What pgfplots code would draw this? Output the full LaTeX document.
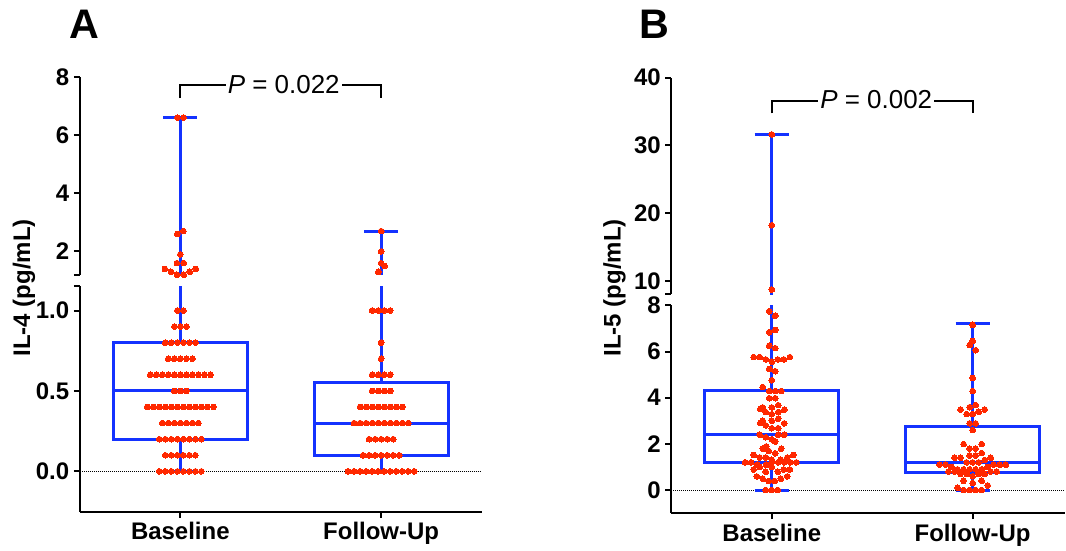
\documentclass[border=0pt]{standalone}
\usepackage{fontspec}
\setmainfont{Liberation Sans}
\usepackage{pgfplots}
\pgfplotsset{compat=1.18}
\usepgfplotslibrary{statistics}
\definecolor{boxblue}{RGB}{20,50,255}
\definecolor{dotred}{RGB}{255,40,0}
\pgfplotsset{
  brk/.style={
    scale only axis,
    clip=true,
    tick align=outside,
    major tick length=4.5pt,
    tick style={black, line width=1.5pt},
    axis line style={black, line width=1.5pt},
    ticklabel style={font=\fontsize{18}{20}\selectfont\bfseries, black},
    /pgf/number format/assume math mode=true,
    minor tick num=0,
    boxplot/draw direction=y,
  },
  upperpanel/.style={brk, axis x line=none, axis y line*=left, xtick=\empty},
  lowerpanel/.style={brk, axis x line*=bottom, axis y line*=left, xtick={1,2}, xticklabels={Baseline,Follow-Up}},
  bx/.style={draw=boxblue, line width=2.25pt, solid},
  dots/.style={only marks, mark=*, mark size=2.15pt, mark options={fill=dotred, draw=dotred, line width=0pt}},
}
\begin{document}
\begin{tikzpicture}
\begin{scope}[x=0.75pt, y=0.75pt]
\path[use as bounding box] (0,0) rectangle (1066,550);
\end{scope}

% ---------- Panel A, upper segment ----------
\begin{axis}[upperpanel, at={(60pt,206.25pt)}, anchor=south west, width=301.5pt, height=148.5pt,
  xmin=0.5, xmax=2.5, ymin=1.2, ymax=8, ytick={2,4,6,8}, yticklabels={2,4,6,8},
  extra y ticks={1.2}, extra y tick labels={}]
\addplot[bx, boxplot prepared={draw position=1, lower whisker=0, lower quartile=0.2, median=0.5, upper quartile=0.8, upper whisker=6.6, box extend=0.667, whisker extend=0.17}] coordinates {};
\addplot[bx, boxplot prepared={draw position=2, lower whisker=0, lower quartile=0.1, median=0.3, upper quartile=0.55, upper whisker=2.7, box extend=0.667, whisker extend=0.17}] coordinates {};
\addplot[dots] table {
x y
0.983 1.2
1.017 1.2
0.953 1.3
1.047 1.3
0.923 1.4
1.077 1.4
0.983 1.6
1.017 1.6
1.0 1.9
0.985 2.6
1.015 2.7
0.985 6.6
1.015 6.6
1.986 1.3
2.017 1.5
2.0 1.6
2.0 2.0
2.0 2.7
};
\coordinate (pa1) at (axis cs:1,7.27);
\coordinate (pa2) at (axis cs:1,7.72);
\coordinate (pa3) at (axis cs:2,7.72);
\coordinate (pa4) at (axis cs:2,7.27);
\coordinate (pat) at (axis cs:1.515,7.74);
\end{axis}

% ---------- Panel A, lower segment ----------
\begin{axis}[lowerpanel, at={(60pt,28.5pt)}, anchor=south west, width=301.5pt, height=169pt,
  xmin=0.5, xmax=2.5, ymin=-0.25, ymax=1.15, ytick={0,0.5,1}, yticklabels={0.0,0.5,1.0},
  extra y ticks={1.15}, extra y tick labels={}]
\addplot[black, densely dotted, line width=0.5pt] coordinates {(0.5,0) (2.5,0)};
\addplot[bx, boxplot prepared={draw position=1, lower whisker=0, lower quartile=0.2, median=0.5, upper quartile=0.8, upper whisker=6.6, box extend=0.667, whisker extend=0.17}] coordinates {};
\addplot[bx, boxplot prepared={draw position=2, lower whisker=0, lower quartile=0.1, median=0.3, upper quartile=0.55, upper whisker=2.7, box extend=0.667, whisker extend=0.17}] coordinates {};
\addplot[dots] table {
x y
0.895 0
0.925 0
0.955 0
0.985 0
1.015 0
1.045 0
1.075 0
1.105 0
0.925 0.1
0.955 0.1
0.985 0.1
1.015 0.1
1.045 0.1
1.075 0.1
0.895 0.2
0.925 0.2
0.955 0.2
0.985 0.2
1.015 0.2
1.045 0.2
1.075 0.2
1.105 0.2
0.91 0.3
0.94 0.3
0.97 0.3
1.0 0.3
1.03 0.3
1.06 0.3
1.09 0.3
0.835 0.4
0.865 0.4
0.895 0.4
0.925 0.4
0.955 0.4
0.985 0.4
1.015 0.4
1.045 0.4
1.075 0.4
1.105 0.4
1.135 0.4
1.165 0.4
0.97 0.5
1.0 0.5
1.03 0.5
0.85 0.6
0.88 0.6
0.91 0.6
0.94 0.6
0.97 0.6
1.0 0.6
1.03 0.6
1.06 0.6
1.09 0.6
1.12 0.6
1.15 0.6
0.94 0.7
0.97 0.7
1.0 0.7
1.03 0.7
1.06 0.7
0.925 0.8
0.955 0.8
0.985 0.8
1.015 0.8
1.045 0.8
1.075 0.8
0.97 0.9
1.0 0.9
1.03 0.9
0.985 1.0
1.015 1.0
1.835 0
1.865 0
1.895 0
1.925 0
1.955 0
1.985 0
2.015 0
2.045 0
2.075 0
2.105 0
2.135 0
2.165 0
1.91 0.1
1.94 0.1
1.97 0.1
2.0 0.1
2.03 0.1
2.06 0.1
2.09 0.1
1.94 0.2
1.97 0.2
2.0 0.2
2.03 0.2
2.06 0.2
1.865 0.3
1.895 0.3
1.925 0.3
1.955 0.3
1.985 0.3
2.015 0.3
2.045 0.3
2.075 0.3
2.105 0.3
2.135 0.3
1.895 0.4
1.925 0.4
1.955 0.4
1.985 0.4
2.015 0.4
2.045 0.4
2.075 0.4
2.105 0.4
1.955 0.5
1.985 0.5
2.015 0.5
2.045 0.5
1.955 0.6
1.985 0.6
2.015 0.6
2.045 0.6
2.0 0.7
2.0 0.8
1.955 1.0
1.985 1.0
2.015 1.0
2.045 1.0
};
\end{axis}

% ---------- Panel B, upper segment ----------
\begin{axis}[upperpanel, at={(504pt,191.55pt)}, anchor=south west, width=295.5pt, height=162.75pt,
  xmin=0.5, xmax=2.46, ymin=8, ymax=40, ytick={10,20,30,40}, yticklabels={10,20,30,40},
  extra y ticks={8}, extra y tick labels={}]
\addplot[bx, boxplot prepared={draw position=1, lower whisker=0, lower quartile=1.2, median=2.4, upper quartile=4.3, upper whisker=31.6, box extend=0.667, whisker extend=0.17}] coordinates {};
\addplot[dots] table {
x y
1.0 31.6
1.0 18.2
1.0 8.7
};
\coordinate (pb1) at (axis cs:1,34.7);
\coordinate (pb2) at (axis cs:1,36.6);
\coordinate (pb3) at (axis cs:2,36.6);
\coordinate (pb4) at (axis cs:2,34.7);
\coordinate (pbt) at (axis cs:1.52,36.7);
\end{axis}

% ---------- Panel B, lower segment ----------
\begin{axis}[lowerpanel, at={(504pt,27.3pt)}, anchor=south west, width=295.5pt, height=155.9pt,
  xmin=0.5, xmax=2.46, ymin=-1, ymax=8, ytick={0,2,4,6,8}, yticklabels={0,2,4,6,8}]
\addplot[black, densely dotted, line width=0.5pt] coordinates {(0.5,0) (2.46,0)};
\addplot[bx, boxplot prepared={draw position=1, lower whisker=0, lower quartile=1.2, median=2.4, upper quartile=4.3, upper whisker=31.6, box extend=0.667, whisker extend=0.17}] coordinates {};
\addplot[bx, boxplot prepared={draw position=2, lower whisker=0, lower quartile=0.75, median=1.2, upper quartile=2.75, upper whisker=7.2, box extend=0.667, whisker extend=0.17}] coordinates {};
\addplot[dots] table {
x y
0.987 7.75
1.017 7.55
1.017 6.94
0.987 6.84
0.987 6.25
1.017 6.15
0.91 5.76
0.94 5.76
0.97 5.66
1.0 5.56
1.03 5.66
1.06 5.66
1.09 5.76
0.987 5.25
1.017 5.15
1.0 4.76
0.955 4.46
0.987 4.29
1.017 4.29
1.047 4.29
0.987 3.98
1.017 3.98
0.943 3.52
0.955 3.58
1.0 3.58
1.032 3.68
1.062 3.48
0.97 3.38
1.0 3.29
1.032 3.38
0.943 2.91
0.955 3.0
1.0 3.0
1.032 3.09
1.062 2.89
0.97 2.8
1.0 2.68
1.032 2.68
0.94 2.4
0.97 2.29
1.032 2.4
1.062 2.4
1.0 2.2
1.017 2.1
0.972 1.89
0.955 1.79
0.985 1.69
1.047 1.79
1.017 1.59
0.91 1.52
0.94 1.41
0.97 1.41
1.0 1.31
1.045 1.31
1.077 1.41
1.107 1.52
0.867 1.2
0.897 1.2
0.927 1.1
0.972 1.1
1.0 1.2
1.032 1.2
1.062 1.2
1.092 1.2
1.122 1.2
0.91 0.89
0.94 1.0
0.97 0.79
1.0 1.0
1.03 0.79
1.06 0.89
1.09 0.89
0.925 0.59
0.955 0.49
0.985 0.39
1.015 0.39
1.045 0.49
1.077 0.59
0.97 0
1.0 0
1.03 0
2.0 7.16
2.0 6.46
1.985 6.28
2.015 6.06
2.0 4.86
2.0 4.29
1.94 3.49
1.985 3.59
2.015 3.68
1.97 3.29
2.0 3.29
2.03 3.39
2.06 3.49
1.985 2.89
2.015 2.89
2.0 2.6
1.955 1.99
2.045 1.99
1.985 1.8
2.015 1.8
1.91 1.4
1.94 1.4
1.985 1.5
2.015 1.5
2.045 1.6
2.06 1.3
2.09 1.4
1.835 1.1
1.865 1.1
1.97 1.2
2.0 1.2
2.03 1.2
2.105 1.1
2.135 1.1
2.165 1.1
1.895 1.0
1.925 0.9
1.955 0.9
1.985 0.9
2.015 0.9
2.045 0.9
2.075 1.0
1.88 0.8
1.91 0.8
1.94 0.7
1.97 0.7
2.0 0.6
2.03 0.7
2.06 0.7
2.09 0.8
2.12 0.8
1.955 0.4
2.0 0.3
2.045 0.4
1.925 0.1
2.075 0.2
1.955 0
1.985 0
2.015 0
2.045 0
};
\end{axis}

% ---------- annotations ----------
\draw[line width=1.5pt, line join=miter] (pa1) -- (pa2) -- (pa3) -- (pa4);
\node[fill=white, inner sep=1.5pt, font=\fontsize{19.5}{21}\selectfont] at (pat) {\textit{P} = 0.022};
\draw[line width=1.5pt, line join=miter] (pb1) -- (pb2) -- (pb3) -- (pb4);
\node[fill=white, inner sep=1.5pt, font=\fontsize{19.5}{21}\selectfont] at (pbt) {\textit{P} = 0.002};

\begin{scope}[x=0.75pt, y=0.75pt]
\node[font=\fontsize{31}{31}\selectfont\bfseries] at (84,526) {A};
\node[font=\fontsize{31}{31}\selectfont\bfseries] at (655,526) {B};
\node[rotate=90, font=\fontsize{18}{20}\selectfont\bfseries] at (24,262) {IL-4 (pg/mL)};
\node[rotate=90, font=\fontsize{18}{20}\selectfont\bfseries] at (615,262) {IL-5 (pg/mL)};
\end{scope}
\end{tikzpicture}
\end{document}
